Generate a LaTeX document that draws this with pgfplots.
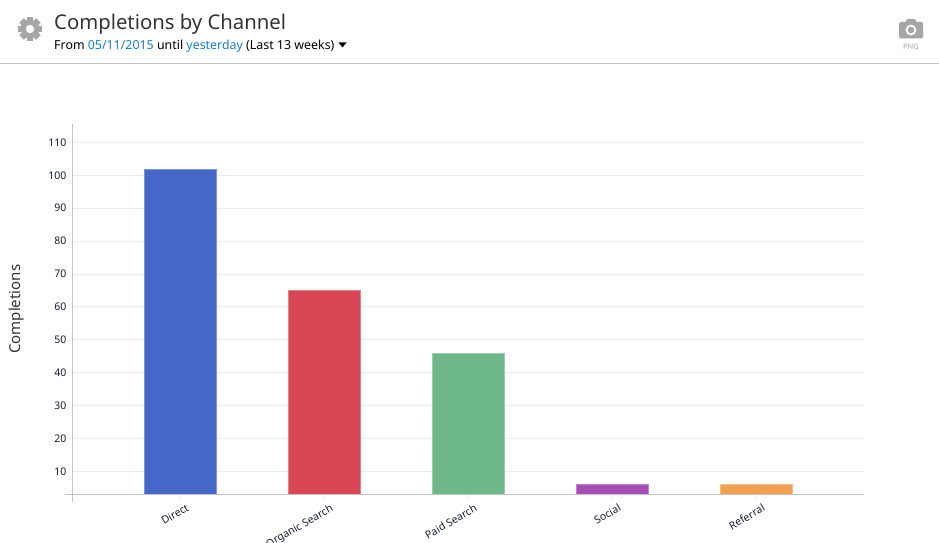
\documentclass[border=0pt]{standalone}
\usepackage{pgfplots}
\pgfplotsset{compat=1.18}
\usepackage{fontspec}
\setmainfont{Noto Sans}
\definecolor{cDirect}{HTML}{4567C7}
\definecolor{cOrganic}{HTML}{D94654}
\definecolor{cPaid}{HTML}{6DB789}
\definecolor{cSocial}{HTML}{A64DB5}
\definecolor{cReferral}{HTML}{F0A04E}
\definecolor{axisgray}{HTML}{C4C4C4}
\definecolor{gridgray}{HTML}{EBEBEB}
\definecolor{icongray}{HTML}{A6A6A6}
\definecolor{linkblue}{HTML}{1B7CC4}
\definecolor{titleink}{HTML}{333333}
\definecolor{tickink}{HTML}{141E33}
\begin{document}
\begin{tikzpicture}[x=1pt,y=1pt]
\useasboundingbox (0,0) rectangle (939,542);
\fill[white] (0,0) rectangle (939,542);
% header
\node[anchor=base west,inner sep=0pt,text=titleink,font=\fontsize{20.3}{24}\selectfont] at (54,542-30) {Completions by Channel};
\node[anchor=base west,inner sep=0pt,text=black,font=\fontsize{12.4}{14}\selectfont] at (54,542-50)
 {From \textcolor{linkblue}{05/11/2015} until \textcolor{linkblue}{yesterday} (Last 13 weeks)};
\fill[black] (338.5,542-42.5) -- (346.5,542-42.5) -- (342.5,542-47.5) -- cycle;
\draw[axisgray,line width=1pt] (0,542-63.5) -- (939,542-63.5);
% gear
\foreach \a in {0,45,...,315}{
  \fill[icongray,rotate around={\a:(30,542-29)}] (26.8,542-29) rectangle (33.2,542-17);
}
\fill[icongray] (30,542-29) circle (9.3);
\fill[white] (30,542-29) circle (4.2);
% camera
\fill[icongray,rounded corners=1.5pt] (899,542-38.5) rectangle (923,542-22);
\fill[icongray,rounded corners=1pt] (905,542-23) -- (907,542-19) -- (915,542-19) -- (917,542-23) -- cycle;
\fill[white] (911,542-30) circle (5.4);
\fill[icongray] (911,542-30) circle (3.3);
\node[anchor=base,inner sep=0pt,text=icongray,font=\fontsize{7.5}{9}\selectfont] at (911,542-50) {PNG};
\begin{axis}[
  at={(72.5pt,47.5pt)},anchor=south west,
  scale only axis,width=791.5pt,height=370.5pt,
  xmin=-0.747,xmax=4.75,ymin=3,ymax=115.6,
  axis lines=left,axis line style={draw=none},
  axis x line*=bottom,axis y line*=left,
  xtick={0,1,2,3,4},
  xticklabels={Direct,Organic Search,Paid Search,Social,Referral},
  ytick={10,20,30,40,50,60,70,80,90,100,110},
  ymajorgrids,grid style={gridgray,line width=1pt},
  major tick length=0pt,
  x tick label style={rotate=30,anchor=north east,font=\fontsize{10.5}{13}\selectfont,text=tickink,xshift=1.5pt,yshift=-9.5pt,inner sep=1pt},
  y tick label style={font=\fontsize{10.5}{13}\selectfont,text=tickink,inner sep=0pt,xshift=-6pt},
  /pgf/number format/assume math mode=true,
  ylabel={Completions},
  ylabel style={font=\fontsize{15}{17}\selectfont,text=titleink,at={(axis description cs:0,0.5)},anchor=south,yshift=48.5pt,inner sep=0pt},
  ybar,bar width=71.5pt,bar shift=0pt,
  clip=false,
]
\addplot[fill=cDirect,draw=cDirect!70!white,line width=0.5pt] coordinates {(0,102)};
\addplot[fill=cOrganic,draw=cOrganic!70!white,line width=0.5pt] coordinates {(1,65)};
\addplot[fill=cPaid,draw=cPaid!70!white,line width=0.5pt] coordinates {(2,46)};
\addplot[fill=cSocial,draw=cSocial!70!white,line width=0.5pt] coordinates {(3,6)};
\addplot[fill=cReferral,draw=cReferral!70!white,line width=0.5pt] coordinates {(4,6)};
\end{axis}
% axis lines
\draw[axisgray,line width=1pt] (72.5,542-124) -- (72.5,542-501.5);
\draw[axisgray,line width=1pt] (65,542-494.5) -- (864,542-494.5);
\foreach \x in {180,324,468,612,756}{\draw[gridgray,line width=1pt] (\x,542-495) -- (\x,542-500);}
\end{tikzpicture}
\end{document}
